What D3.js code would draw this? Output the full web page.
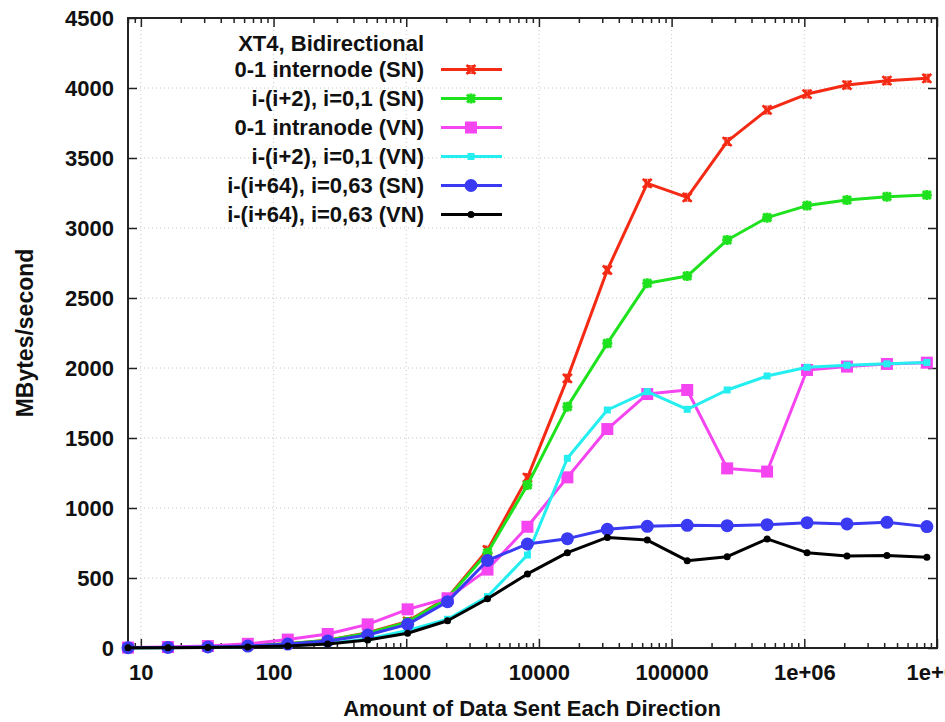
<!DOCTYPE html>
<html>
<head>
<meta charset="utf-8">
<script src="https://cdn.jsdelivr.net/npm/d3@7"></script>
<style>
	body { margin: 0; background: #fff; }
	svg text { font-family: "Liberation Sans", Arial, Helvetica, sans-serif; font-weight: bold; fill: #111; }
</style>
</head>
<body>
<div id="container"></div>
<script>
// message sizes (bytes sent each direction)
var sizes = [8, 16, 32, 64, 128, 256, 512, 1024, 2048, 4096, 8192, 16384, 32768, 65536,
	131072, 262144, 524288, 1048576, 2097152, 4194304, 8388608];

var internodeSN = [2, 4, 8, 15, 30, 55, 110, 190, 360, 700, 1217, 1926, 2700, 3319, 3219, 3617, 3843, 3957, 4021, 4052, 4069];
var plus2SN     = [2, 4, 8, 15, 30, 55, 105, 185, 355, 680, 1164, 1724, 2176, 2605, 2657, 2914, 3074, 3160, 3200, 3224, 3236];
var intranodeVN = [3, 7, 14, 30, 60, 100, 169, 276, 355, 560, 866, 1219, 1564, 1814, 1843, 1283, 1260, 1986, 2010, 2029, 2038];
var plus2VN     = [1, 2, 5, 9, 18, 33, 65, 125, 205, 367, 664, 1355, 1700, 1831, 1705, 1843, 1943, 2005, 2020, 2030, 2040];
var plus64SN    = [2, 4, 7, 14, 28, 50, 93, 169, 331, 625, 743, 781, 848, 869, 876, 874, 881, 895, 886, 898, 867];
var plus64VN    = [1, 2, 4, 8, 15, 28, 57, 105, 195, 352, 529, 681, 790, 771, 624, 652, 779, 681, 657, 660, 648];

var seriesNames = ["0-1 internode (SN)", "i-(i+2), i=0,1 (SN)", "0-1 intranode (VN)",
	"i-(i+2), i=0,1 (VN)", "i-(i+64), i=0,63 (SN)", "i-(i+64), i=0,63 (VN)"];
var seriesColors = ["#f42a14", "#1de21d", "#f545f0", "#24eef0", "#3a3af2", "#000000"];
var seriesMarkers = ["x", "star", "bigSquare", "smallSquare", "bigCircle", "smallCircle"];

var yTicks = [0, 500, 1000, 1500, 2000, 2500, 3000, 3500, 4000, 4500];
var xTicks = [10, 100, 1000, 10000, 100000, 1000000, 10000000];
var xTickLabels = ["10", "100", "1000", "10000", "100000", "1e+06", "1e+07"];

var config = {
	width: 945,
	height: 722,
	left: 128,
	right: 937,
	top: 18,
	bottom: 648,
	fontSize: "22px"
};

var allSeries = [internodeSN, plus2SN, intranodeVN, plus2VN, plus64SN, plus64VN];

var svg = d3.select("#container")
		.append("svg")
		.attr("width", config.width)
		.attr("height", config.height);

var x = d3.scaleLog()
		.domain([8, 1e7])
		.range([config.left, config.right]);

var y = d3.scaleLinear()
		.domain([0, 4500])
		.range([config.bottom, config.top]);

// minor ticks 2..9 of every decade
var minorTicks = [];
[1, 10, 100, 1000, 10000, 100000, 1000000].forEach(function(d) {
	for (var k = 2; k <= 9; k++) {
		var v = d * k;
		if (v >= 8 && v < 1e7) minorTicks.push(v);
	}
});

// grid
var grid = svg.append("g").attr("class", "grid");
grid.selectAll(".hgrid")
		.data(yTicks.slice(1, -1))
		.enter().append("line")
		.attr("x1", config.left)
		.attr("x2", config.right)
		.attr("y1", function(d) { return y(d); })
		.attr("y2", function(d) { return y(d); })
		.attr("stroke", "#c8c8c8")
		.attr("stroke-width", 1)
		.style("stroke-dasharray", "1,3");
grid.selectAll(".vgrid")
		.data(xTicks.slice(0, -1))
		.enter().append("line")
		.attr("x1", function(d) { return x(d); })
		.attr("x2", function(d) { return x(d); })
		.attr("y1", config.top)
		.attr("y2", config.bottom)
		.attr("stroke", "#c8c8c8")
		.attr("stroke-width", 1)
		.style("stroke-dasharray", "1,3");

// axes, ticks pointing inwards
function styleAxis(g) {
	g.select(".domain").remove();
	g.selectAll(".tick line").attr("stroke", "#222").attr("stroke-width", 1.5);
	g.selectAll(".tick text").style("font-size", config.fontSize).attr("fill", "#111");
}

svg.append("g")
		.attr("transform", "translate(" + config.left + ",0)")
		.call(d3.axisLeft(y).tickValues(yTicks).tickSize(-9).tickPadding(14).tickFormat(d3.format("d")))
		.call(styleAxis)
		.selectAll(".tick text")
		.attr("dy", "0.36em");

svg.append("g")
		.attr("transform", "translate(" + config.right + ",0)")
		.call(d3.axisRight(y).tickValues(yTicks).tickSize(-9).tickFormat(""))
		.call(styleAxis);

// the last label runs off the right edge, as in the original
svg.append("g")
		.attr("transform", "translate(0," + config.bottom + ")")
		.call(d3.axisBottom(x).tickValues(xTicks).tickSize(-9).tickPadding(16)
			.tickFormat(function(d, i) { return xTickLabels[i]; }))
		.call(styleAxis);

svg.append("g")
		.attr("transform", "translate(0," + config.bottom + ")")
		.call(d3.axisBottom(x).tickValues(minorTicks).tickSize(-5).tickFormat(""))
		.call(styleAxis);

svg.append("g")
		.attr("transform", "translate(0," + config.top + ")")
		.call(d3.axisTop(x).tickValues(xTicks).tickSize(-9).tickFormat(""))
		.call(styleAxis);

svg.append("g")
		.attr("transform", "translate(0," + config.top + ")")
		.call(d3.axisTop(x).tickValues(minorTicks).tickSize(-5).tickFormat(""))
		.call(styleAxis);

// frame
svg.append("rect")
		.attr("x", config.left)
		.attr("y", config.top)
		.attr("width", config.right - config.left)
		.attr("height", config.bottom - config.top)
		.attr("fill", "none")
		.attr("stroke", "#222")
		.attr("stroke-width", 2);

// markers
function drawMarker(g, type, color) {
	if (type == "x") {
		g.append("path")
			.attr("d", "M-4.5,-4.5L4.5,4.5M-4.5,4.5L4.5,-4.5M-1.5,-4.5L-1.5,4.5M1.5,-4.5L1.5,4.5")
			.attr("stroke", color)
			.attr("stroke-width", 2.5)
			.attr("fill", "none");
	} else if (type == "star") {
		g.append("path")
			.attr("d", "M-5,0H5M0,-5V5M-4,-4L4,4M-4,4L4,-4")
			.attr("stroke", color)
			.attr("stroke-width", 3)
			.attr("fill", "none");
	} else if (type == "bigSquare") {
		g.append("rect")
			.attr("x", -6).attr("y", -6)
			.attr("width", 12).attr("height", 12)
			.attr("fill", color);
	} else if (type == "smallSquare") {
		g.append("rect")
			.attr("x", -3.5).attr("y", -3.5)
			.attr("width", 7).attr("height", 7)
			.attr("fill", color);
	} else if (type == "bigCircle") {
		g.append("circle")
			.attr("r", 6.5)
			.attr("fill", color);
	} else {
		g.append("circle")
			.attr("r", 3.5)
			.attr("fill", color);
	}
}

var line = d3.line()
		.x(function(d, i) { return x(sizes[i]); })
		.y(function(d) { return y(d); });

allSeries.forEach(function(values, s) {
	var g = svg.append("g").attr("class", "series-" + s);
	g.append("path")
		.datum(values)
		.attr("d", line)
		.attr("fill", "none")
		.attr("stroke", seriesColors[s])
		.attr("stroke-width", 3)
		.attr("stroke-linejoin", "round");
	g.selectAll(".pt")
		.data(values)
		.enter().append("g")
		.attr("class", "pt")
		.attr("transform", function(d, i) { return "translate(" + x(sizes[i]) + "," + y(d) + ")"; })
		.each(function() { drawMarker(d3.select(this), seriesMarkers[s], seriesColors[s]); });
});

// legend
var legend = svg.append("g").attr("class", "legend");
legend.append("text")
		.attr("x", 424)
		.attr("y", 43)
		.attr("text-anchor", "end")
		.attr("dominant-baseline", "central")
		.style("font-size", config.fontSize)
		.text("XT4, Bidirectional");

seriesNames.forEach(function(name, s) {
	var ly = 69.5 + s * 29;
	legend.append("text")
		.attr("x", 424)
		.attr("y", ly)
		.attr("text-anchor", "end")
		.attr("dominant-baseline", "central")
		.style("font-size", config.fontSize)
		.text(name);
	legend.append("line")
		.attr("x1", 441)
		.attr("x2", 502)
		.attr("y1", ly)
		.attr("y2", ly)
		.attr("stroke", seriesColors[s])
		.attr("stroke-width", 3);
	var m = legend.append("g").attr("transform", "translate(471," + ly + ")");
	drawMarker(m, seriesMarkers[s], seriesColors[s]);
});

// axis titles
svg.append("text")
		.attr("x", 532)
		.attr("y", 708)
		.attr("text-anchor", "middle")
		.attr("dominant-baseline", "central")
		.style("font-size", config.fontSize)
		.text("Amount of Data Sent Each Direction");

svg.append("text")
		.attr("transform", "translate(25,333) rotate(-90)")
		.attr("text-anchor", "middle")
		.attr("dominant-baseline", "central")
		.style("font-size", "23px")
		.text("MBytes/second");
</script>
</body>
</html>
